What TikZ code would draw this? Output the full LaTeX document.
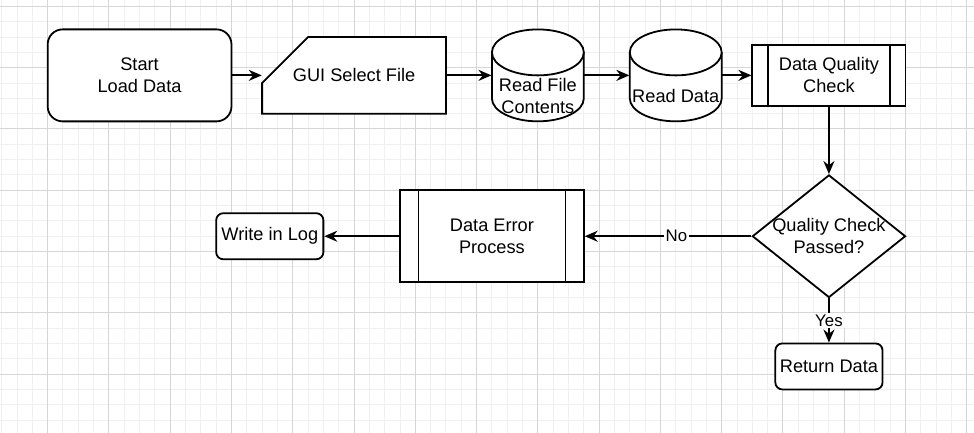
\documentclass[tikz,border=0pt]{standalone}
\usepackage{fontspec}
\setmainfont{Liberation Sans}
\usetikzlibrary{shapes.geometric, arrows.meta, calc}

\tikzset{
  every node/.style={font=\fontsize{9.1pt}{10.9pt}\selectfont},
  minorgrid/.style={draw=black!6, line width=0.5pt},
  majorgrid/.style={draw=black!16, line width=0.5pt},
  outline/.style={draw=black, line width=0.9pt, fill=white},
  flowline/.style={draw=black, line width=0.9pt, -{Stealth[length=6.5pt, width=5.5pt]}},
  termbox/.style={outline, rectangle, rounded corners=7.5pt, align=center, inner sep=0pt},
  smallbox/.style={outline, rectangle, rounded corners=3.5pt, align=center, inner sep=0pt,
    minimum width=53.6pt, minimum height=23pt},
  subproc/.style={outline, rectangle, align=center, inner sep=0pt,
    path picture={
      \draw[line width=0.9pt]
        ($(path picture bounding box.north west)!0.1!(path picture bounding box.north east)$) --
        ($(path picture bounding box.south west)!0.1!(path picture bounding box.south east)$)
        ($(path picture bounding box.north east)!0.1!(path picture bounding box.north west)$) --
        ($(path picture bounding box.south east)!0.1!(path picture bounding box.south west)$);
    }},
  datastore/.style={rectangle, inner sep=0pt, minimum width=46pt, minimum height=46pt},
  storetext/.style={align=center, yshift=-10.4pt},
  decision/.style={outline, diamond, inner sep=0pt, minimum width=76.6pt, minimum height=61.3pt},
  edgetag/.style={fill=white, inner sep=1pt, font=\fontsize{8.4pt}{10pt}\selectfont}
}

\begin{document}
\begin{tikzpicture}[x=7.66pt, y=7.66pt]
  % page and grid
  \path[use as bounding box, fill=white] (-0.111,-0.839) rectangle (63.47,27.42);
  \draw[minorgrid, step=1] (-0.111,-0.839) grid (63.47,27.42);
  \draw[majorgrid, step=4, shift={(3,3)}] (-3.111,-3.839) grid (60.47,24.42);

  % top row
  \node[termbox, minimum width=91.9pt, minimum height=46pt] (start) at (9,22.5) {Start\\Load Data};
  \draw[outline] (17,20) -- (17,22) -- (20,25) -- (29,25) -- (29,20) -- cycle;
  \node[inner sep=0pt, minimum width=91.9pt, minimum height=38.3pt] (gui) at (23,22.5) {GUI Select File};
  \foreach \cx in {35,44} {
    \draw[outline] (\cx-3,24) -- (\cx-3,21) arc[start angle=180, end angle=360, x radius=3, y radius=1.5] -- (\cx+3,24);
    \draw[outline] (\cx,24) ellipse [x radius=3, y radius=1.5];
  }
  \node[datastore, label={[storetext]center:Read File\\Contents}] (rfc) at (35,22.5) {};
  \node[datastore, label={[storetext]center:Read Data}] (rdd) at (44,22.5) {};
  \node[subproc, minimum width=76.6pt, minimum height=30.6pt] (dqc) at (54,22.5) {Data Quality\\Check};

  % lower row
  \node[decision, label={[align=center]center:Quality Check\\Passed?}] (chk) at (54,12) {};
  \node[subproc, minimum width=91.9pt, minimum height=46pt] (dep) at (32,12) {Data Error\\Process};
  \node[smallbox] (log) at (17.5,12) {Write in Log};
  \node[smallbox] (ret) at (54,3.5) {Return Data};

  % connectors
  \draw[flowline] (start) -- (gui);
  \draw[flowline] (gui) -- (rfc);
  \draw[flowline] (rfc) -- (rdd);
  \draw[flowline] (rdd) -- (dqc);
  \draw[flowline] (dqc) -- (chk);
  \draw[flowline] (chk) -- node[edgetag, pos=0.45] {No} (dep);
  \draw[flowline] (dep) -- (log);
  \draw[flowline] (chk) -- node[edgetag] {Yes} (ret);
\end{tikzpicture}
\end{document}
